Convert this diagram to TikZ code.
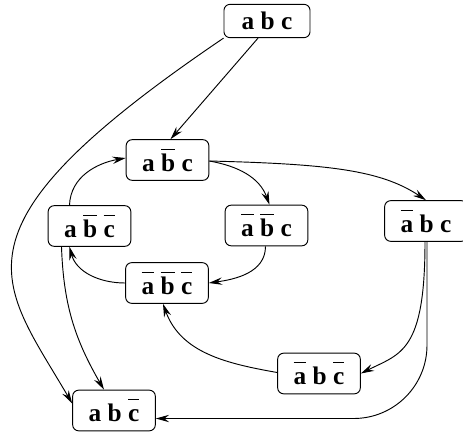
\documentclass[tikz,border=0pt]{standalone}
\usepackage{fontspec}
\setmainfont{Liberation Serif}
\usetikzlibrary{arrows.meta, calc}

% negated literal: bar over one letter
\newcommand\nt[1]{{\setbox0\hbox{#1}\rlap{\rule[0.86em]{\wd0}{0.7pt}}\box0}}

\begin{document}
\begin{tikzpicture}[
    x=0.75pt, y=0.75pt,
    state/.style={draw, line width=0.7pt, rounded corners=4.5pt, minimum width=62pt, minimum height=30.5pt,
                  font=\fontsize{19}{22}\selectfont\bfseries},
    arrow/.style={line width=0.7pt, -{Stealth[length=10pt, width=5.5pt, inset=3.5pt]}}
]
\useasboundingbox (0,0) rectangle (463,-432);

% States (upper case = negated letter)
\node[state, minimum width=64.5pt, minimum height=25pt] (abc) at (267,-21) {a b c};
\node[state] (aBc) at (167.5,-160)  {a \nt{b} c};
\node[state] (aBC) at (89.5,-226)   {a \nt{b} \nt{c}};
\node[state] (ABc) at (266.5,-225.5) {\nt{a} \nt{b} c};
\node[state] (Abc) at (426,-221)    {\nt{a} b c};
\node[state] (ABC) at (167,-283)    {\nt{a} \nt{b} \nt{c}};
\node[state] (AbC) at (319,-373.5)  {\nt{a} b \nt{c}};
\node[state] (abC) at (114,-410.5)  {a b \nt{c}};

% Transitions
\draw[arrow] ($(abc.south)+(-9,0)$) -- ($(aBc.north)+(3,0)$);
\draw[arrow] (abc.south west) .. controls (-60,-230) and (0,-280) .. ($(abC.west)+(0,7)$);
\draw[arrow] ($(aBc.east)+(0,-1)$) to[out=-10, in=110] ($(ABc.north)+(3,0)$);
\draw[arrow] ($(aBc.east)+(0,-1)$) .. controls +(120,-3) and +(-45,30) .. (Abc.north);
\draw[arrow] ($(aBC.north)+(-20,0)$) to[out=88, in=190] ($(aBc.west)+(0,2)$);
\draw[arrow] ($(aBC.south)+(-28,0)$) to[out=-88, in=120] ($(abC.north)+(-10,0)$);
\draw[arrow] ($(ABc.south)+(-1,0)$) to[out=-90, in=8] (ABC.east);
\draw[arrow] (ABC.west) to[out=180, in=-75] ($(aBC.south)+(-20,0)$);
\draw[arrow] ($(Abc.south)+(-1,0)$) .. controls +(0,-110) and +(40,20) .. (AbC.east);
\draw[arrow, rounded corners=55pt] ($(Abc.south)+(1,0)$) |- ($(abC.east)+(0,-8)$);
\draw[arrow] ($(AbC.west)+(0,1)$) to[out=170, in=-70] ($(ABC.south)+(-4,0)$);

\end{tikzpicture}
\end{document}
